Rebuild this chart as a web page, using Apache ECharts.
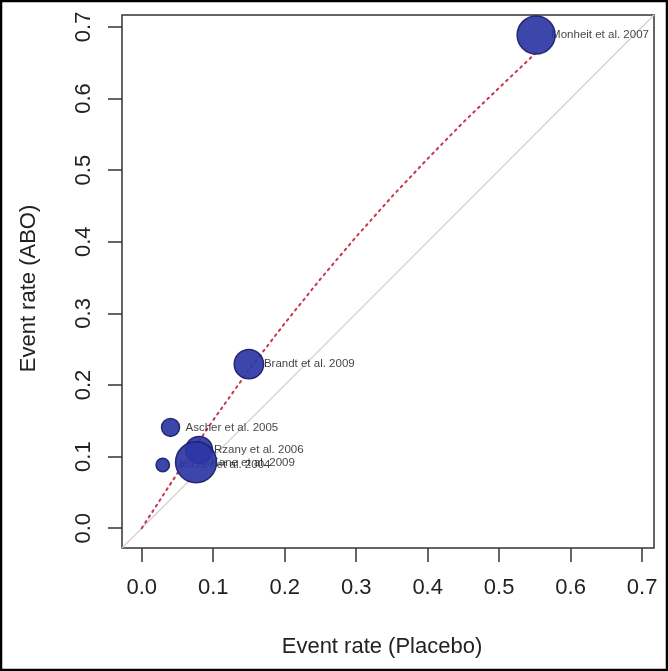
<!DOCTYPE html>
<html>
<head>
<meta charset="utf-8">
<script src="https://cdn.jsdelivr.net/npm/echarts@6/dist/echarts.min.js"></script>
<style>
html,body{margin:0;padding:0;background:#fff;}
#chart{width:668px;height:671px;}
</style>
</head>
<body>
<div id="chart"></div>
<script>
// ---- data ----
var studies = ['Monheit et al. 2007', 'Brandt et al. 2009', 'Ascher et al. 2005', 'Rzany et al. 2006', 'Kane et al. 2009', 'Ascher et al. 2004'];
var placeboRate = [0.5517, 0.1499, 0.0403, 0.0802, 0.0760, 0.0294];
var aboRate = [0.6886, 0.2291, 0.1408, 0.1094, 0.0920, 0.0884];
var studyWeight = [1444, 864, 324, 729, 1681, 180];
// pooled (dotted red) curve
var curveX = [0, 0.05, 0.10, 0.15, 0.20, 0.25, 0.30, 0.35, 0.40, 0.45, 0.50, 0.5517];
var curveY = [0, 0.077, 0.151, 0.221, 0.286, 0.348, 0.407, 0.463, 0.516, 0.567, 0.615, 0.664];
var tickValues = [0, 0.1, 0.2, 0.3, 0.4, 0.5, 0.6, 0.7];
var axisMin = -0.0276, axisMax = 0.7166;

var chart = echarts.init(document.getElementById('chart'), null, {renderer: 'canvas'});
var font = 'Liberation Sans, Arial, Helvetica, sans-serif';

var points = placeboRate.map(function (x, i) { return [x, aboRate[i], studyWeight[i], studies[i]]; });
var curve = curveX.map(function (x, i) { return [x, curveY[i]]; });

function axisCommon(isX) {
  return {
    type: 'value',
    min: axisMin,
    max: axisMax,
    axisLine: {show: false, onZero: false},
    splitLine: {show: false},
    axisTick: {show: true, length: 14, customValues: tickValues, lineStyle: {color: '#333', width: 1.5}},
    axisLabel: {
      show: true,
      customValues: tickValues,
      formatter: function (v) { return v.toFixed(1); },
      fontFamily: font,
      fontSize: 22,
      color: '#222',
      margin: isX ? 29 : 27,
      rotate: isX ? 0 : 90
    },
    nameLocation: 'middle',
    nameTextStyle: {fontFamily: font, fontSize: 22, color: '#222'},
    nameGap: isX ? 88 : 82
  };
}

var xAxis = axisCommon(true); xAxis.name = 'Event rate (Placebo)';
xAxis.nameTextStyle.padding = [0, 12, 0, 0];
var yAxis = axisCommon(false); yAxis.name = 'Event rate (ABO)';
yAxis.nameTextStyle.padding = [0, 14, 0, 0];

chart.setOption({
  animation: false,
  backgroundColor: '#fff',
  grid: {left: 122, right: 14, top: 15, bottom: 123, show: true, borderColor: '#333', borderWidth: 1.5, backgroundColor: 'transparent'},
  xAxis: xAxis,
  yAxis: yAxis,
  graphic: [{
    type: 'rect', shape: {x: 1, y: 1, width: 666, height: 669},
    style: {fill: 'none', stroke: '#000', lineWidth: 2.5}, silent: true, z: 100
  }],
  series: [
    {
      type: 'line', data: [[axisMin, axisMin], [axisMax, axisMax]], showSymbol: false, silent: true,
      lineStyle: {color: '#d2d2d2', width: 1.2}, z: 1
    },
    {
      type: 'line', data: curve, showSymbol: false, silent: true, smooth: false,
      lineStyle: {color: '#c73550', width: 2, type: [2, 4.5], cap: 'round'}, z: 2
    },
    {
      type: 'scatter', data: points, symbolSize: 0, silent: true, z: 3,
      label: {
        show: true, position: 'right', distance: 15,
        formatter: function (p) { return p.data[3]; },
        fontFamily: font, fontSize: 11.5, color: '#111'
      }
    },
    {
      type: 'scatter', data: points, silent: true, z: 4,
      symbolSize: function (d) { return Math.sqrt(d[2]); },
      itemStyle: {color: 'rgb(44,54,164)', opacity: 0.92, borderColor: '#1a1f6a', borderWidth: 1.5}
    }
  ]
});
</script>
</body>
</html>
